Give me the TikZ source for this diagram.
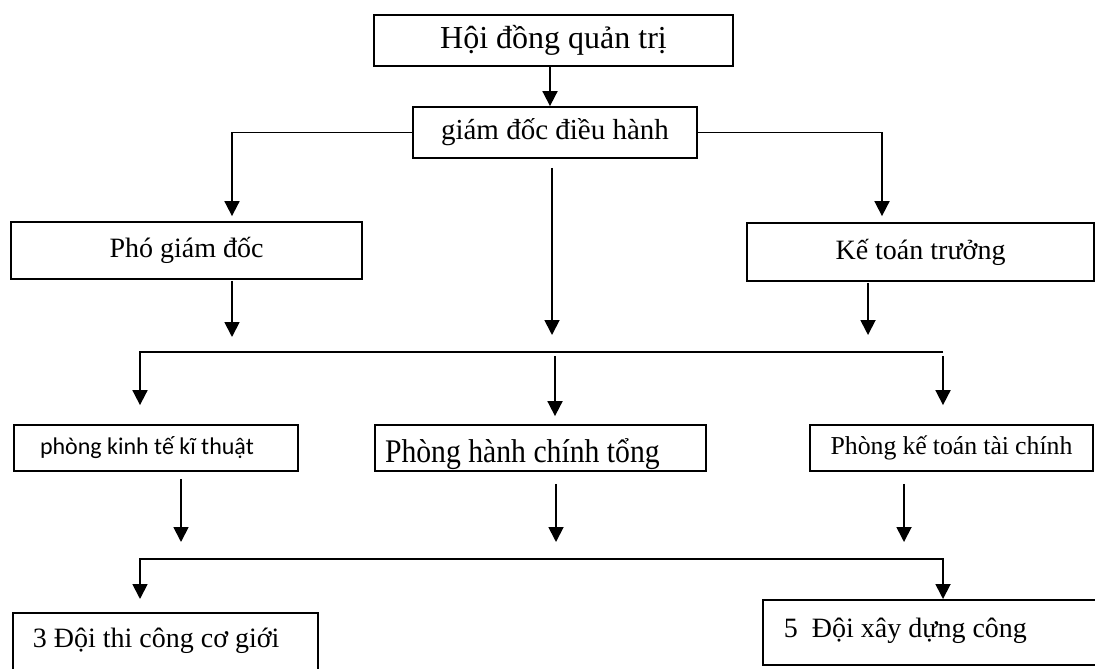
\documentclass[tikz,border=0pt]{standalone}
\usepackage{fontspec}
\setmainfont{Liberation Serif}
\newfontfamily\narrowserif[FakeStretch=0.9]{Liberation Serif}
\newfontfamily\calfont{Carlito}
\usetikzlibrary{arrows.meta,calc}

\begin{document}
\begin{tikzpicture}[x=0.5pt,y=-0.5pt, >={Triangle[width=7.5pt,length=7.5pt]}, line width=0.9pt,
  box/.style={draw,inner sep=0pt}, lbox/.style={draw,align=flush left,inner ysep=0pt}]
  \fill[white](0,0) rectangle (1095,668);
  \clip(0,0) rectangle (1095,668);
  % top levels
  \node[box,minimum width=179.5pt,minimum height=25.5pt,font=\fontsize{16}{18}\selectfont](hd) at (553.5,40.5){Hội đồng quản trị};
  \node[box,minimum width=142pt,minimum height=25.5pt,font=\fontsize{14.5}{16}\selectfont](gd) at (555,132.5){giám đốc điều hành};
  \node[box,minimum width=175.5pt,minimum height=28.5pt,font=\fontsize{14}{16}\selectfont](pg) at (186.5,250.5){Phó giám đốc};
  \node[box,minimum width=173.5pt,minimum height=29pt,font=\fontsize{14}{16}\selectfont](kt) at (920.5,252){Kế toán trưởng};
  % phong ban
  \node[lbox,inner xsep=13pt,text width=116pt,minimum height=23pt,font=\calfont\fontsize{12}{13}\selectfont](pk) at (156,448){phòng kinh tế kĩ thuật};
  \node[lbox,inner xsep=5pt,text width=155.5pt,minimum height=23pt,text height=14pt,text depth=0pt,font=\narrowserif\fontsize{16.5}{18}\selectfont](hc) at (540.5,448){Phòng hành chính tổng};
  \node[lbox,inner xsep=10.25pt,text width=121pt,minimum height=23pt,font=\fontsize{12.9}{14}\selectfont](pt) at (951.5,448){Phòng kế toán tài chính};
  % doi
  \node[lbox,anchor=north west,inner xsep=10pt,inner ysep=4pt,text width=132.5pt,text height=13.5pt,text depth=30pt,font=\fontsize{14}{16}\selectfont](d3) at (12,612){3 Đội thi công cơ giới};
  \node[lbox,anchor=north west,inner xsep=10.5pt,inner ysep=4pt,text width=149pt,text height=15pt,text depth=9.5pt,font=\fontsize{14}{16}\selectfont](d5) at (762,599){5~ Đội xây dựng công};
  \coordinate(b1w) at (140,352); \coordinate(b1e) at (943,352);
  \coordinate(b2w) at (140,559); \coordinate(b2e) at (943,559);
  \draw[->]($(hd.south)+(-3.5,0)$)--($(gd.north)+(-5,0)$);
  \draw[->](gd.west)-|($(pg.north)+(45.5,-5)$);
  \draw[->](gd.east)-|($(kt.north)+(-38.5,-6)$);
  \draw[->]($(gd.south)+(-3,9)$)--($(gd.south|-b1w)+(-3,-17)$);
  \draw[->]($(pg.south)+(45.5,1)$)--($(pg.south|-b1w)+(45.5,-15)$);
  \draw[->]($(kt.south)+(-52.5,1)$)--($(kt.south|-b1w)+(-52.5,-17)$);
  \draw[->](b1e)--(b1w)--($(b1w|-pk.north)+(0,-19)$);
  \draw[->]($(hc.north|-b1w)+(14.5,4)$)--($(hc.north)+(14.5,-8)$);
  \draw[->]($(b1e)+(0,4)$)--($(b1e|-pt.north)+(0,-19)$);
  \draw[->]($(pk.south)+(25,7)$)--($(pk.south|-b2w)+(25,-17)$);
  \draw[->]($(hc.south)+(15.5,12)$)--($(hc.south|-b2w)+(15.5,-17)$);
  \draw[->]($(pt.south)+(-47.5,12)$)--($(pt.south|-b2w)+(-47.5,-17)$);
  \draw[<->]($(b2w|-d3.north)+(0,-13)$)|-(b2e)--(b2e|-d5.north);
\end{tikzpicture}
\end{document}
